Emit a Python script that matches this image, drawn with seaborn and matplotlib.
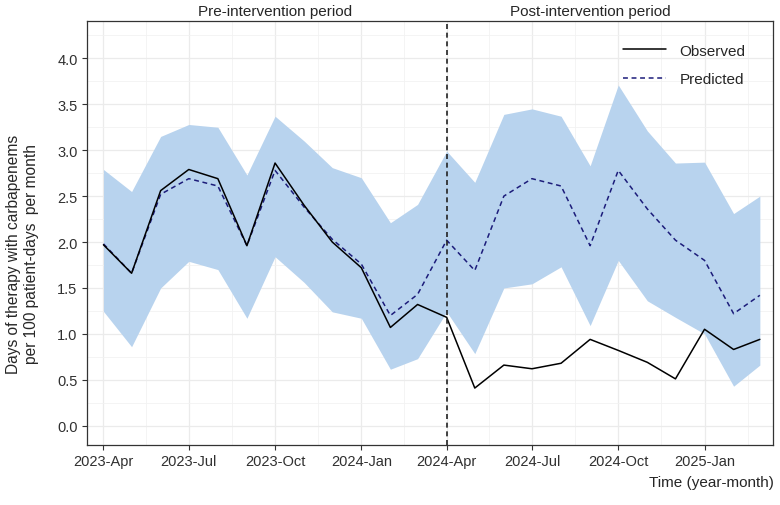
import pandas as pd
import numpy as np
import seaborn as sns
import matplotlib.pyplot as plt
import matplotlib.dates as mdates

# monthly values (2023-Apr .. 2025-Mar)
months = pd.date_range('2023-04-01', periods=24, freq='MS')
observed = [1.97, 1.66, 2.56, 2.79, 2.69, 1.96, 2.86, 2.40, 2.00, 1.72, 1.07, 1.32,
            1.18, 0.41, 0.66, 0.62, 0.68, 0.94, 0.82, 0.69, 0.51, 1.05, 0.83, 0.94]
predicted = [1.98, 1.66, 2.52, 2.69, 2.61, 1.96, 2.78, 2.38, 2.03, 1.76, 1.20, 1.43,
             2.02, 1.69, 2.50, 2.69, 2.61, 1.96, 2.78, 2.36, 2.02, 1.80, 1.22, 1.42]
upper = [2.79, 2.55, 3.15, 3.28, 3.25, 2.73, 3.37, 3.10, 2.81, 2.70, 2.21, 2.41,
         2.99, 2.65, 3.39, 3.45, 3.37, 2.83, 3.71, 3.21, 2.86, 2.87, 2.31, 2.50]
lower = [1.245, 0.86, 1.50, 1.79, 1.70, 1.17, 1.84, 1.56, 1.24, 1.17, 0.615, 0.73,
         1.24, 0.785, 1.50, 1.545, 1.73, 1.09, 1.80, 1.36, 1.18, 1.00, 0.43, 0.66]
intervention = pd.Timestamp('2024-04-01')
period_labels = ['Pre-intervention period', 'Post-intervention period']
period_pos = [pd.Timestamp('2023-10-01'), pd.Timestamp('2024-09-01')]


def main():
    sns.set_style('white')
    plt.rcParams['font.family'] = ['Liberation Sans', 'DejaVu Sans']

    df = pd.DataFrame({'month': months, 'Observed': observed, 'Predicted': predicted,
                       'upper': upper, 'lower': lower})

    fig = plt.figure(figsize=(7.8, 5.06), dpi=100)
    ax = fig.add_axes([0.111, 0.1186, 0.880, 0.8385])

    # prediction interval
    ax.fill_between(df['month'], df['lower'], df['upper'], color='#B8D3EE', lw=0, zorder=1)

    sns.lineplot(data=df, x='month', y='Observed', color='black', lw=1.1, ax=ax,
                 label='Observed', zorder=3)
    sns.lineplot(data=df, x='month', y='Predicted', color='#1c1c7a', lw=1.1, ax=ax,
                 label='Predicted', dashes=False, zorder=2)
    ax.lines[-1].set_dashes((3.2, 2.4))

    ax.axvline(intervention, color='#222222', lw=1.2, ls=(0, (3, 2.2)), zorder=4)

    # axes, ticks, grid (theme_bw look)
    ax.set_xlim(pd.Timestamp('2023-03-14'), pd.Timestamp('2025-03-15'))
    ax.set_ylim(-0.21, 4.41)
    majors = pd.date_range('2023-04-01', '2025-01-01', freq='3MS')
    maj_num = mdates.date2num(majors)
    minors = (maj_num[:-1] + maj_num[1:]) / 2
    minors = np.append(minors, maj_num[-1] + (maj_num[-1] - maj_num[-2]) / 2)
    ax.set_xticks(majors)
    ax.set_xticklabels([d.strftime('%Y-%b') for d in majors])
    ax.set_xticks(minors, minor=True)
    ax.set_yticks(np.arange(0, 4.01, 0.5))
    ax.set_yticks(np.arange(0.25, 4.3, 0.5), minor=True)
    ax.yaxis.set_major_formatter(plt.FormatStrFormatter('%.1f'))

    ax.grid(True, which='major', color='#EBEBEB', lw=0.9, zorder=0)
    ax.grid(True, which='minor', color='#F2F2F2', lw=0.6, zorder=0)
    ax.set_axisbelow(True)
    for s in ax.spines.values():
        s.set_color('#333333')
        s.set_linewidth(0.9)
    ax.tick_params(which='major', length=3.5, width=0.8, color='#333333',
                   labelsize=10.5, labelcolor='#303030', pad=3, left=True, bottom=True)
    ax.tick_params(which='minor', length=0)

    ax.set_xlabel('')
    ax.set_ylabel('')
    fig.text(0.992, 0.045, 'Time (year-month)', ha='right', va='center', fontsize=11)
    fig.text(0.029, 0.498, 'Days of therapy with carbapenems\nper 100 patient-days  per month',
             rotation=90, ha='center', va='center', fontsize=11.2, linespacing=1.3)

    for lab, pos in zip(period_labels, period_pos):
        ax.text(pos, 1.023, lab, transform=ax.get_xaxis_transform(),
                ha='center', va='center', fontsize=11)

    ax.legend(loc='upper left', bbox_to_anchor=(0.789, 0.927), bbox_transform=fig.transFigure,
              frameon=False, fontsize=11, handlelength=2.8, handletextpad=0.9,
              labelspacing=0.95, borderpad=0)

    plt.savefig('out.png', dpi=100)


if __name__ == "__main__":
    main()
